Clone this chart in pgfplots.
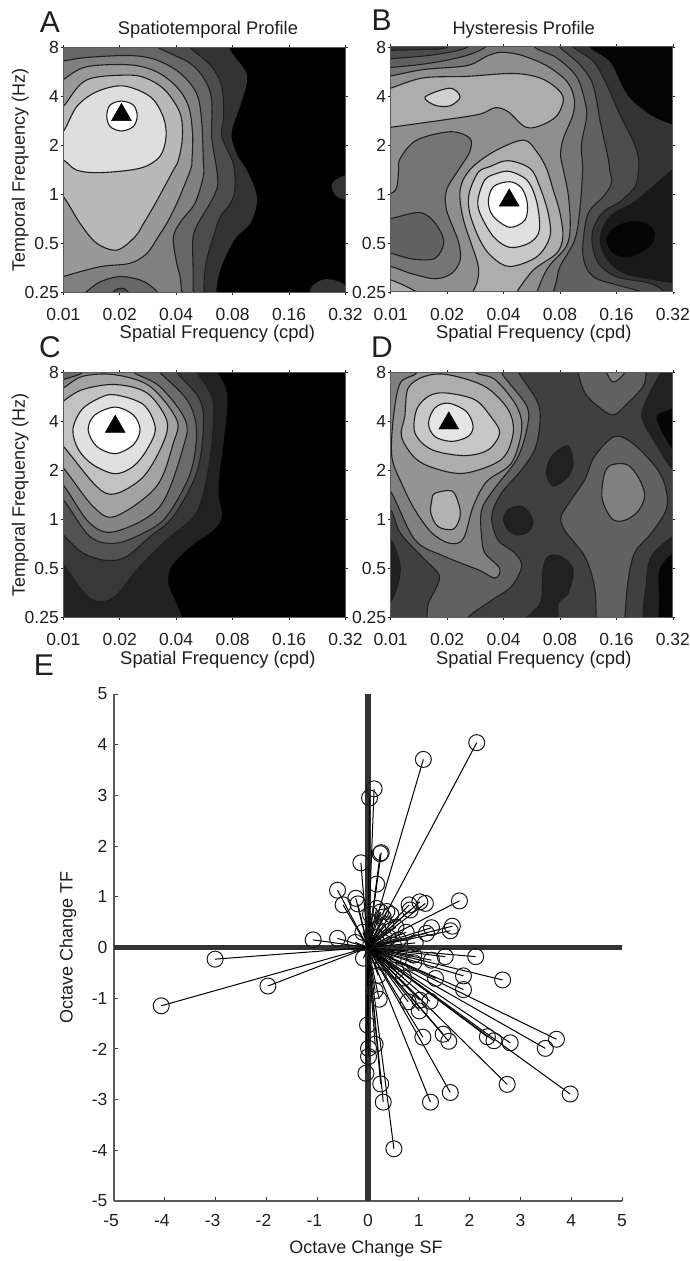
\documentclass[border=0pt]{standalone}
\usepackage{pgfplots}
\usepackage{pgfplotstable}
\usepackage{fontspec}
\setmainfont{Liberation Sans}
\pgfplotsset{compat=1.18}
\tikzset{
 lv/.style={draw=black!88,line width=1.1pt,smooth,tension=.55,fill=black!#1},
 lvc/.style={draw=black!88,line width=1.1pt,smooth cycle,tension=.55,fill=black!#1},
 nl/.style={draw=none,smooth,tension=.55,fill=black!#1},
 nlc/.style={draw=none,smooth cycle,tension=.55,fill=black!#1},
}
\newcommand\tf{\fontsize{17.5}{20}\selectfont}
\pgfplotsset{
 panel/.style={
  scale only axis,width=282.2pt,height=245pt,anchor=south west,
  xmin=0,xmax=5,ymin=0,ymax=5,axis on top,
  xtick={0,1,2,3,4,5},ytick={0,1,2,3,4,5},
  xticklabels={0.01,0.02,0.04,0.08,0.16,0.32},
  yticklabels={0.25,0.5,1,2,4,8},
  tick align=outside,tick pos=both,major tick length=2.5pt,
  tick style={black!85,line width=.8pt},
  axis line style={black!65,line width=1pt},
  xticklabel pos=lower,yticklabel pos=left,
  tick label style={font=\tf,text=black!88},
  xticklabel style={yshift=-10pt},
  yticklabel style={xshift=1.5pt},
 },
 xlab/.style={every axis x label/.style={at={(axis description cs:0.5,0)},anchor=center,xshift=#1},
   xlabel style={font=\fontsize{18.4}{20}\selectfont,text=black!88}},
 ylab/.style={every axis y label/.style={at={(axis description cs:0,0.5)},rotate=90,anchor=center,yshift=43pt,font=\fontsize{18}{20}\selectfont,text=black!88}},
}
\pgfplotstableread{
x y
2.14 4.04
1.09 3.71
0.12 3.13
0.03 2.95
0.26 1.87
0.24 1.85
-0.14 1.67
0.17 1.25
-0.60 1.13
-0.49 0.84
-0.24 0.97
-0.20 0.86
0.17 0.77
0.37 0.71
0.81 0.84
1.02 0.90
1.13 0.87
0.83 0.74
1.80 0.92
1.66 0.42
1.62 0.33
1.25 0.39
1.15 0.28
0.93 0.09
-1.08 0.15
-0.60 0.18
0.30 0.60
0.55 0.40
0.40 0.20
0.20 0.35
0.10 0.50
-0.10 0.30
0.60 0.15
0.75 0.30
0.45 0.65
0.25 0.70
0.05 0.65
0.15 0.20
0.30 0.10
0.50 0.05
-0.25 0.10
0.35 0.45
-3.01 -0.23
-1.97 -0.76
-4.07 -1.15
2.12 -0.18
1.52 -0.18
1.25 -0.25
2.65 -0.64
1.88 -0.56
1.88 -0.83
1.33 -0.61
3.71 -1.81
3.49 -1.99
2.80 -1.88
2.48 -1.84
2.35 -1.76
3.98 -2.89
2.74 -2.70
1.62 -2.86
1.23 -3.05
0.51 -3.97
0.30 -3.05
0.25 -2.69
1.08 -1.77
1.59 -1.85
1.48 -1.71
1.22 -1.06
1.02 -1.04
1.01 -1.25
0.79 -1.07
0.22 -1.02
0.14 -0.85
-0.01 -1.53
0.14 -1.91
0.01 -1.99
0.01 -2.15
-0.04 -2.48
-0.09 -0.21
0.90 -0.15
0.50 -0.20
0.90 -0.30
0.55 -0.45
0.30 -0.30
0.15 -0.15
0.20 -0.55
0.70 -0.60
}\octdata
\begin{document}
\begin{tikzpicture}[x=1pt,y=1pt]
\useasboundingbox (0,0) rectangle (689,1261);
% ---------- A
\begin{axis}[panel,at={(63.3pt,968.3pt)},axis background/.style={fill=black},
  xlabel={Spatial Frequency (cpd)},xlab=13pt,
  every axis x label/.append style={yshift=-41.5pt},
  ylabel={Temporal Frequency (Hz)},ylab]
\addplot[nlc=80] coordinates {(5.14,2.40)(4.96,2.38)(4.79,2.27)(4.76,2.13)(4.85,1.96)(5.02,1.89)(5.14,1.85)};
\addplot[nl=80] coordinates {(4.34,-.15)(4.40,.12)(4.61,.27)(4.85,.24)(5.02,.12)(5.14,-.15)};
\addplot[nl=80] coordinates {(2.80,5.5)(2.96,4.95)(3.22,4.54)(3.25,4.27)(3.13,3.80)(2.98,3.25)(3.07,2.84)(3.25,2.50)(3.40,2.10)(3.43,1.82)(3.31,1.41)(3.07,1.14)(2.90,.80)(2.78,.46)(2.71,.05)(2.69,-.5)(-2,-2)(-2,7)};
\addplot[lv=70] coordinates {(2.0,5.5)(2.16,5.12)(2.30,4.95)(2.63,4.61)(2.81,4.20)(2.84,3.59)(2.81,3.18)(3.01,2.64)(3.04,2.10)(2.96,1.82)(2.78,1.55)(2.66,1.14)(2.57,.80)(2.51,.46)(2.49,.05)(2.49,-.5)(-2,-2)(-2,7)};
\addplot[lv=60] coordinates {(1.4,5.5)(1.60,5.09)(1.77,4.95)(2.25,4.68)(2.51,4.34)(2.63,3.93)(2.63,3.18)(2.72,2.50)(2.73,2.16)(2.60,1.82)(2.42,1.48)(2.30,1.14)(2.30,.46)(2.30,.05)(2.30,-.5)(-2,-2)(-2,7)};
\addplot[lv=50] coordinates {(-.6,4.70)(-.24,4.72)(0,4.73)(.41,4.80)(1.18,4.84)(1.65,4.75)(2.07,4.48)(2.36,4.07)(2.45,3.52)(2.48,2.71)(2.48,2.37)(2.33,1.82)(2.10,1.48)(1.95,1.14)(2.01,.60)(2.07,.33)(2.09,.05)(2.10,-.5)(-2,-2)};
\addplot[lv=60] coordinates {(.24,-.15)(.41,.02)(.65,.22)(1.0,.33)(1.36,.26)(1.60,.09)(1.77,-.15)};
\addplot[lv=70] coordinates {(.77,-.15)(.92,.05)(1.03,.09)(1.12,.05)(1.27,-.15)};
\addplot[lv=40] coordinates {(-.6,4.0)(-.24,4.17)(0,4.35)(.41,4.61)(1.18,4.65)(1.65,4.51)(2.01,4.20)(2.22,3.80)(2.29,3.25)(2.28,2.71)(2.25,2.50)(2.01,1.82)(1.83,1.41)(1.68,1.14)(1.48,.80)(1.18,.60)(.65,.53)(0,.33)(-.24,.22)(-.6,.1)};
\addplot[lv=28] coordinates {(-.6,3.4)(-.24,3.6)(0,3.80)(.41,4.34)(1.18,4.44)(1.54,4.34)(1.83,4.10)(2.07,3.66)(2.11,3.18)(2.04,2.71)(1.95,2.50)(1.63,1.82)(1.42,1.41)(1.27,1.14)(.95,.87)(.59,1.01)(.30,1.41)(0,1.96)(-.24,2.16)(-.6,2.4)};
\addplot[lv=13] coordinates {(-.6,2.95)(-.24,3.1)(0,3.29)(.24,3.80)(.59,4.10)(1.06,4.22)(1.54,4.0)(1.77,3.59)(1.82,3.18)(1.71,2.78)(1.36,2.54)(.65,2.45)(.24,2.50)(0,2.71)(-.24,2.8)(-.6,2.8)};
\addplot[lvc=0] coordinates {(1.03,3.91)(1.24,3.83)(1.31,3.61)(1.24,3.39)(1.03,3.30)(.83,3.39)(.77,3.61)(.83,3.83)};
\addplot[only marks,mark=triangle*,mark size=11.5pt,mark options={black,fill=black}] coordinates {(1.03,3.63)};
\end{axis}
% ---------- B
\begin{axis}[panel,at={(390.7pt,969pt)},axis background/.style={fill=black!90},
  xlabel={Spatial Frequency (cpd)},xlab=2pt,
  every axis x label/.append style={yshift=-41.5pt}]
\addplot[nl=98] coordinates {(3.53,4.99)(3.88,4.70)(4.12,4.16)(4.30,3.88)(4.65,3.58)(5.01,3.41)(5.30,3.34)(5.4,5.5)(3.4,5.5)};
\addplot[nl=80] coordinates {(3.4,5.5)(3.53,4.99)(3.88,4.70)(4.12,4.16)(4.30,3.88)(4.65,3.58)(5.01,3.41)(5.30,3.34)(5.30,2.63)(5.01,2.52)(4.59,2.11)(4.30,1.84)(3.94,1.61)(3.77,1.37)(3.70,1.03)(3.83,.65)(4.12,.38)(4.65,.24)(5.01,.18)(5.30,.14)(5.4,-.6)(-2,-2)(-2,7)};
\addplot[lv=70] coordinates {(-.3,4.9)(0,4.93)(.58,4.95)(.99,4.99)(1.2,5.3)(2.9,5.3)(3.24,4.99)(3.59,4.71)(3.77,4.37)(3.88,4.10)(4.06,3.62)(4.30,3.07)(4.39,2.73)(4.39,2.49)(4.33,2.15)(4.06,1.84)(3.77,1.64)(3.60,1.33)(3.57,.99)(3.68,.59)(4.0,.31)(4.59,.18)(4.86,0)(5.0,-.16)(5.0,-.5)(-2,-2)};
\addplot[lv=62] coordinates {(-.3,4.73)(0,4.76)(.76,4.84)(1.35,4.99)(1.6,5.3)(2.7,5.3)(3.0,4.99)(3.35,4.64)(3.56,4.30)(3.65,3.90)(3.71,3.49)(3.85,2.74)(3.88,2.49)(3.91,2.22)(3.77,1.95)(3.53,1.67)(3.44,1.33)(3.41,.72)(3.59,.31)(4.12,.11)(4.45,0)(4.56,-.13)(4.6,-.5)(-2,-2)};
\addplot[lv=54] coordinates {(-.3,4.55)(0,4.58)(.70,4.67)(1.29,4.81)(1.67,4.99)(1.9,5.3)(2.4,5.3)(2.56,4.99)(2.94,4.78)(3.29,4.40)(3.44,3.90)(3.47,3.56)(3.38,3.01)(3.40,2.49)(3.35,1.67)(3.26,1.06)(3.0,.52)(2.94,.24)(2.88,0)(2.82,-.16)(2.8,-.5)(-2,-2)};
\addplot[lv=44] coordinates {(-.3,4.37)(0,4.41)(.58,4.54)(1.35,4.62)(1.70,4.81)(1.94,4.89)(2.29,4.84)(2.76,4.62)(3.12,4.30)(3.25,3.96)(3.23,3.62)(3.06,3.14)(3.01,2.80)(3.06,2.49)(3.15,1.95)(3.18,1.33)(3.11,.93)(2.82,.55)(2.70,.31)(2.59,0)(2.53,-.16)(2.5,-.5)(-2,-2)};
\addplot[lv=54] coordinates {(-.30,.52)(0,.52)(.35,.38)(.79,.27)(1.08,.38)(1.23,.65)(1.20,1.03)(.99,1.67)(.99,2.08)(1.20,2.49)(1.40,2.86)(1.40,3.14)(1.05,3.27)(.46,3.10)(.17,2.73)(.14,2.49)(.11,2.15)(0,2.01)(-.30,1.98)};
\addplot[lv=62] coordinates {(-.30,1.45)(0,1.50)(.52,1.62)(.79,1.40)(.94,1.03)(.79,.69)(.40,.67)(0,.79)(-.3,.85)};
\addplot[lv=32] coordinates {(1.46,-.16)(1.46,0)(1.54,.24)(1.54,.59)(1.29,1.47)(1.23,2.08)(1.40,2.49)(1.82,2.86)(2.35,3.10)(2.59,2.86)(2.76,2.52)(2.88,2.08)(3.0,1.61)(3.05,1.13)(2.94,.79)(2.53,.45)(2.23,0)(2.14,-.16)};
\addplot[lv=32] coordinates {(-.3,.35)(.02,.24)(.40,.04)(.58,-.13)(-.3,-.3)};
\addplot[lv=32] coordinates {(-.3,4.05)(0,4.16)(.58,4.37)(1.35,4.40)(2.17,4.46)(2.64,4.37)(2.94,4.16)(3.06,3.93)(2.94,3.59)(2.64,3.39)(2.38,3.37)(2.08,3.68)(1.85,3.76)(1.58,3.63)(.99,3.52)(0,3.36)(-.3,3.3)};
\addplot[lvc=18] coordinates {(.61,3.98)(1.05,4.16)(1.23,3.98)(1.05,3.80)(.79,3.81)};
\addplot[lvc=22] coordinates {(1.76,2.56)(2.08,2.68)(2.47,2.52)(2.64,2.15)(2.79,1.61)(2.82,1.13)(2.59,.72)(2.11,.52)(1.79,.72)(1.58,1.06)(1.40,1.61)(1.39,2.01)(1.55,2.44)};
\addplot[lvc=12] coordinates {(2.11,2.46)(2.41,2.29)(2.56,1.95)(2.63,1.54)(2.62,1.20)(2.44,.99)(2.11,.91)(1.82,1.13)(1.58,1.61)(1.55,1.91)(1.67,2.29)(1.88,2.42)};
\addplot[lvc=0] coordinates {(2.11,2.25)(2.32,2.12)(2.42,1.81)(2.38,1.47)(2.11,1.32)(1.82,1.54)(1.73,1.84)(1.82,2.15)};
\addplot[nlc=98] coordinates {(3.82,1.06)(3.94,1.30)(4.24,1.44)(4.53,1.40)(4.68,1.20)(4.59,.93)(4.24,.71)(3.94,.79)};
\addplot[only marks,mark=triangle*,mark size=11.5pt,mark options={black,fill=black}] coordinates {(2.10,1.87)};
\end{axis}
% ---------- C
\begin{axis}[panel,at={(63.3pt,643.7pt)},axis background/.style={fill=black},
  xlabel={Spatial Frequency (cpd)},xlab=13.5pt,
  every axis x label/.append style={yshift=-42.5pt},
  ylabel={Temporal Frequency (Hz)},ylab]
\addplot[nl=87] coordinates {(2.3,5.3)(2.72,4.99)(2.90,4.58)(2.88,3.96)(2.75,2.67)(2.81,2.06)(2.66,1.78)(2.25,1.44)(1.92,1.04)(1.86,.69)(1.98,.35)(2.10,0)(2.15,-.5)(-2,-2)(-2,7)};
\addplot[lv=78] coordinates {(2.1,5.3)(2.36,5.0)(2.63,4.51)(2.66,3.96)(2.57,3.01)(2.36,2.13)(1.83,1.58)(1.36,1.04)(.95,.46)(.71,.32)(.47,.39)(.24,.69)(0,1.07)(-.3,1.35)(-1.5,3)(-1.5,7)};
\addplot[lv=68] coordinates {(1.9,5.3)(2.01,5.0)(2.42,4.44)(2.48,3.83)(2.36,2.94)(1.95,2.06)(1.54,1.65)(1.12,1.24)(.77,1.16)(.35,1.31)(0,1.68)(-.3,2.0)(-1.5,3.5)(-1.5,7)};
\addplot[lv=58] coordinates {(1.5,5.3)(1.71,5.0)(2.19,4.44)(2.36,3.83)(2.25,2.94)(1.83,2.06)(1.42,1.72)(.92,1.51)(.47,1.65)(0,2.40)(-.3,2.7)(-1.5,4)(-1.5,7)};
\addplot[lv=48] coordinates {(-.3,4.7)(0,4.85)(.35,5.0)(.5,5.3)(1.0,5.3)(1.24,5.0)(1.71,4.71)(2.16,4.03)(2.13,3.49)(1.71,2.26)(.92,1.75)(.47,1.92)(0,2.70)(-.3,3.0)};
\addplot[lv=36] coordinates {(-.3,4.5)(0,4.68)(.35,4.92)(.92,4.95)(1.54,4.71)(2.01,4.03)(1.95,3.56)(1.65,2.67)(.92,2.06)(.53,2.26)(0,3.05)(-.3,3.35)};
\addplot[lv=24] coordinates {(-.3,4.1)(0,4.41)(.35,4.65)(.92,4.75)(1.48,4.58)(1.83,4.03)(1.77,3.56)(1.42,2.87)(.92,2.52)(.59,2.67)(0,3.49)(-.3,3.8)};
\addplot[lvc=12] coordinates {(.92,4.54)(1.42,4.34)(1.63,3.86)(1.48,3.42)(1.24,3.08)(.92,2.93)(.53,3.11)(.27,3.42)(.17,3.83)(.33,4.24)(.65,4.48)};
\addplot[lvc=0] coordinates {(.92,4.29)(1.24,4.13)(1.36,3.83)(1.24,3.52)(.92,3.34)(.59,3.49)(.44,3.83)(.56,4.13)};
\addplot[only marks,mark=triangle*,mark size=11.5pt,mark options={black,fill=black}] coordinates {(.92,3.89)};
\end{axis}
% ---------- D
\begin{axis}[panel,at={(390.7pt,643.7pt)},axis background/.style={fill=black!75},
  xlabel={Spatial Frequency (cpd)},xlab=2pt,
  every axis x label/.append style={yshift=-42.5pt}]
\addplot[lv=62] coordinates {(2.1,5.3)(2.26,5.0)(2.61,4.37)(2.64,3.90)(2.55,3.42)(2.32,3.01)(1.96,2.53)(1.79,2.06)(1.90,1.58)(2.20,1.31)(2.32,1.04)(2.14,.63)(1.79,.35)(1.37,0)(1.25,-.3)(.62,-.3)(.64,0)(.67,.29)(.84,.69)(.84,.90)(.55,1.24)(.17,1.72)(0,2.19)(-.3,2.5)(-1,4)(-1,7)};
\addplot[lv=50] coordinates {(2.0,5.3)(1.96,5.0)(2.41,4.31)(2.41,3.83)(2.23,3.22)(1.82,2.60)(1.61,2.19)(1.61,1.65)(1.67,1.31)(1.93,1.0)(1.85,.80)(1.55,.97)(.96,1.24)(.43,1.58)(0,2.57)(-.3,2.9)(-1,4)(-1,7)};
\addplot[lv=42] coordinates {(.4,5.3)(.46,4.99)(.17,4.78)(.05,4.10)(.02,3.28)(.19,2.74)(.43,2.19)(.73,1.72)(1.05,1.51)(1.29,1.61)(1.46,2.26)(1.70,2.77)(2.14,3.15)(2.32,3.83)(2.23,4.31)(1.85,4.85)(1.49,5.0)(1.4,5.3)};
\addplot[lvc=32] coordinates {(.25,4.10)(.31,4.68)(.61,4.92)(1.02,4.95)(1.67,4.71)(2.08,4.24)(2.17,3.76)(1.96,3.22)(1.31,2.94)(.78,3.04)(.43,3.25)(.19,3.69)};
\addplot[lvc=22] coordinates {(.96,4.58)(1.49,4.44)(1.79,4.07)(1.93,3.76)(1.73,3.42)(1.31,3.30)(.73,3.42)(.43,3.76)(.46,4.24)(.67,4.51)};
\addplot[lvc=10] coordinates {(1.02,4.37)(1.34,4.20)(1.46,3.90)(1.37,3.69)(1.08,3.59)(.78,3.69)(.67,3.96)(.78,4.27)};
\addplot[only marks,mark=triangle*,mark size=11.5pt,mark options={black,fill=black}] coordinates {(1.03,3.96)};
\addplot[lvc=30] coordinates {(.78,2.53)(1.08,2.58)(1.20,2.33)(1.23,2.06)(1.11,1.80)(.84,1.85)(.71,2.13)(.73,2.40)};
\addplot[lvc=87] coordinates {(2.20,2.26)(2.38,2.23)(2.52,1.96)(2.44,1.75)(2.26,1.68)(2.08,1.78)(2.0,1.99)(2.05,2.16)};
\addplot[lvc=87] coordinates {(3.14,3.50)(3.23,3.15)(3.14,2.87)(2.88,2.68)(2.76,2.94)(2.85,3.28)};
\addplot[lv=87] coordinates {(2.29,-.12)(2.49,.08)(2.67,.35)(2.70,.97)(2.79,1.24)(3.02,1.24)(3.23,.97)(3.14,.49)(2.97,.29)(2.98,-.12)};
\addplot[lv=87] coordinates {(-.3,1.6)(0,1.58)(.17,.97)(0,.32)(-.3,.2)};
\addplot[lvc=62] coordinates {(3.97,3.69)(4.32,3.52)(4.73,3.01)(4.88,2.60)(4.88,2.19)(4.62,1.72)(4.32,1.31)(4.20,.69)(4.15,0)(4.13,-.3)(3.65,-.3)(3.64,0)(3.61,.63)(3.44,1.24)(3.08,1.78)(3.02,2.06)(3.20,2.40)(3.44,2.81)(3.61,3.28)};
\addplot[lvc=50] coordinates {(3.91,3.11)(4.20,3.11)(4.41,2.81)(4.50,2.47)(4.38,2.16)(4.15,1.98)(3.94,1.99)(3.79,2.26)(3.74,2.53)(3.79,2.94)};
\addplot[lv=62] coordinates {(3.3,5.3)(3.32,5.0)(3.44,4.58)(3.67,4.31)(3.94,4.13)(4.20,4.37)(4.47,4.71)(4.53,5.0)(4.55,5.3)};
\addplot[lv=50] coordinates {(3.7,5.3)(3.82,5.0)(3.95,4.80)(4.15,5.0)(4.2,5.3)};
\addplot[lv=87] coordinates {(4.9,5.3)(4.79,5.0)(4.56,4.51)(4.45,4.10)(4.62,3.69)(5.0,3.01)(5.3,2.8)(5.3,5.3)};
\addplot[nl=98] coordinates {(5.3,4.6)(5.0,4.27)(4.71,4.07)(5.0,3.42)(5.3,3.2)};
\addplot[lv=87] coordinates {(5.3,1.8)(5.0,1.65)(4.62,1.24)(4.53,.69)(4.53,-.12)(5.3,-.12)};
\addplot[nl=98] coordinates {(5.3,1.5)(5.0,1.31)(4.76,.97)(4.76,.42)(4.79,-.12)(5.3,-.12)};
\end{axis}
% ---------- E
\begin{axis}[scale only axis,width=508pt,height=507pt,anchor=south west,at={(114pt,60pt)},
  xmin=-5,xmax=5,ymin=-5,ymax=5,
  axis x line=bottom,axis y line=left,axis line style={-,black!65,line width=1.4pt},
  tick align=inside,major tick length=4pt,tick style={black!75,line width=.8pt},
  xtick={-5,-4,-3,-2,-1,0,1,2,3,4,5},ytick={-5,-4,-3,-2,-1,0,1,2,3,4,5},
  xticklabels={\llap{-}5,\llap{-}4,\llap{-}3,\llap{-}2,\llap{-}1,0,1,2,3,4,5},
  yticklabels={-5,-4,-3,-2,-1,0,1,2,3,4,5},
  tick label style={font=\tf,text=black!88},
  xticklabel style={yshift=-10pt},
  yticklabel style={xshift=-3pt},
  every axis x label/.style={at={(axis description cs:0.5,0)},anchor=center,yshift=-47.5pt,xshift=-2pt},
  every axis y label/.style={at={(axis description cs:0,0.5)},rotate=90,anchor=center,yshift=46pt},
  xlabel style={font=\fontsize{18}{20}\selectfont,text=black!88},
  ylabel style={font=\fontsize{18}{20}\selectfont,text=black!88},
  xlabel={Octave Change SF},ylabel={Octave Change TF}]
\addplot[black!80,line width=5.2pt] coordinates {(-5,0)(5,0)};
\addplot[black!80,line width=5.2pt] coordinates {(0,-5)(0,5)};
\addplot[black,line width=1pt,quiver={u=\thisrow{x},v=\thisrow{y}}] table[x expr=0,y expr=0] {\octdata};
\addplot[only marks,mark=o,mark size=8pt,mark options={black!90,line width=1pt}] table[x=x,y=y] {\octdata};
\end{axis}
% ---------- text
\tikzset{pl/.style={font=\fontsize{30}{32}\selectfont,text=black!88,anchor=center}}
\node[pl] at (50,1239) {A};
\node[pl] at (381.7,1241) {B};
\node[pl] at (50,914) {C};
\node[pl] at (382,914) {D};
\node[pl] at (44,596) {E};
\node[font=\fontsize{18.3}{20}\selectfont,text=black!88] at (208,1231) {Spatiotemporal Profile};
\node[font=\fontsize{18.3}{20}\selectfont,text=black!88] at (523.7,1231) {Hysteresis Profile};
\end{tikzpicture}
\end{document}
